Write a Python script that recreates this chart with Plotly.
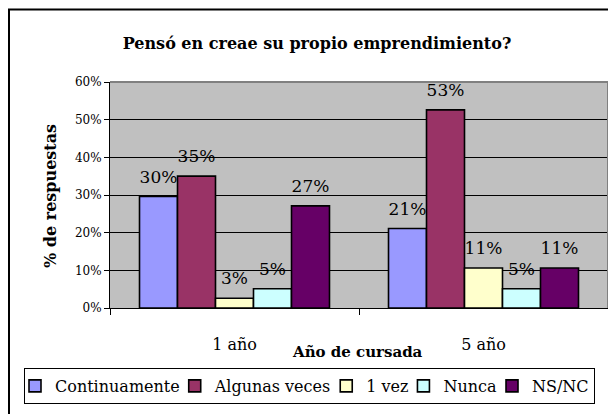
import plotly.graph_objects as go

categories = ["1 año", "5 año"]
series_names = ["Continuamente", "Algunas veces", "1 vez", "Nunca", "NS/NC"]
continuamente = [29.6, 21.1]
algunas_veces = [35.0, 52.6]
una_vez = [2.6, 10.6]
nunca = [5.1, 5.1]
ns_nc = [27.1, 10.6]
series_values = [continuamente, algunas_veces, una_vez, nunca, ns_nc]
colors = ["#9999FF", "#993366", "#FFFFCC", "#CCFFFF", "#660066"]
y_ticks = [0, 10, 20, 30, 40, 50, 60]
y_tick_labels = [f"{v}%" for v in y_ticks]

FONT = "DejaVu Serif"
OFF = 8                      # page body margin of the browser
W, H = 616 - OFF, 414 - OFF  # figure size so that it fills the window
ML = 110 - OFF
MR = 616 - 608
MT = 82 - OFF
MB = H - (308 - OFF)
PW, PH = W - ML - MR, H - MT - MB

def px_x(px):  # window px -> paper
    return (px - OFF - ML) / PW

def px_y(py):
    return (H - MB - (py - OFF)) / PH

fig = go.Figure()
for name, vals, col in zip(series_names, series_values, colors):
    fig.add_trace(go.Bar(
        x=categories, y=vals, name=name,
        marker=dict(color=col, line=dict(color="black", width=1.6)),
        hoverinfo="skip",
    ))
for name, vals in zip(series_names, series_values):
    fig.add_trace(go.Scatter(
        x=categories, y=vals, mode="markers+text",
        marker=dict(size=14, opacity=0),
        texttemplate="%{y:.0f}%", textposition="top center",
        textfont=dict(family=FONT, size=17, color="black"),
        showlegend=False, hoverinfo="skip", cliponaxis=False,
    ))

gap = 0.237
fig.update_layout(
    width=W, height=H, autosize=False,
    margin=dict(l=ML, r=MR, t=MT, b=MB),
    paper_bgcolor="white", plot_bgcolor="#C0C0C0",
    barmode="group", bargap=gap, bargroupgap=0,
    scattermode="group", scattergap=gap,
    font=dict(family=FONT, color="black"),
    title=dict(text="<b>Pensó en creae su propio emprendimiento?</b>",
               x=(317 - OFF) / W, xref="container", xanchor="center",
               y=1 - (43 - OFF) / H, yref="container", yanchor="middle",
               font=dict(family=FONT, size=16, color="black")),
    legend=dict(orientation="h", x=px_x(24), xanchor="left",
                y=px_y(368), yanchor="top", indentation=-10,
                bordercolor="black", borderwidth=1, bgcolor="white",
                font=dict(family=FONT, size=16, color="black"),
                itemclick=False),
    xaxis=dict(type="category", showline=True, linecolor="black", linewidth=1,
               ticks="outside", tickson="boundaries", ticklen=6, tickcolor="black",
               tickfont=dict(family=FONT, size=16, color="black"),
               ticklabelstandoff=22, showgrid=False, zeroline=False),
    yaxis=dict(range=[0, 60], tickvals=y_ticks, ticktext=y_tick_labels,
               showline=True, linecolor="black", linewidth=1,
               ticks="outside", ticklen=5, tickcolor="black",
               tickfont=dict(family=FONT, size=12, color="black"),
               showgrid=True, gridcolor="black", gridwidth=1, zeroline=False),
    showlegend=True,
)

# axis titles
fig.add_annotation(text="<b>Año de cursada</b>", xref="paper", yref="paper",
                   x=px_x(357), y=px_y(352), xanchor="center", yanchor="middle",
                   showarrow=False, font=dict(family=FONT, size=15, color="black"))
fig.add_annotation(text="<b>% de respuestas</b>", xref="paper", yref="paper",
                   x=px_x(50), y=px_y(196), xanchor="center", yanchor="middle",
                   textangle=-90, showarrow=False,
                   font=dict(family=FONT, size=16, color="black"))

# plot border (top/right gray)
fig.add_shape(type="line", xref="paper", yref="paper", x0=0, x1=1, y0=1, y1=1,
              line=dict(color="#808080", width=2), layer="above")
fig.add_shape(type="line", xref="paper", yref="paper", x0=1, x1=1, y0=0, y1=1,
              line=dict(color="#808080", width=2), layer="above")
# outer chart frame
fig.add_shape(type="rect", xref="paper", yref="paper",
              x0=px_x(9), x1=px_x(640), y0=px_y(9.5), y1=px_y(440),
              line=dict(color="black", width=2), fillcolor="rgba(0,0,0,0)",
              layer="below")

fig.write_html("out.html")
